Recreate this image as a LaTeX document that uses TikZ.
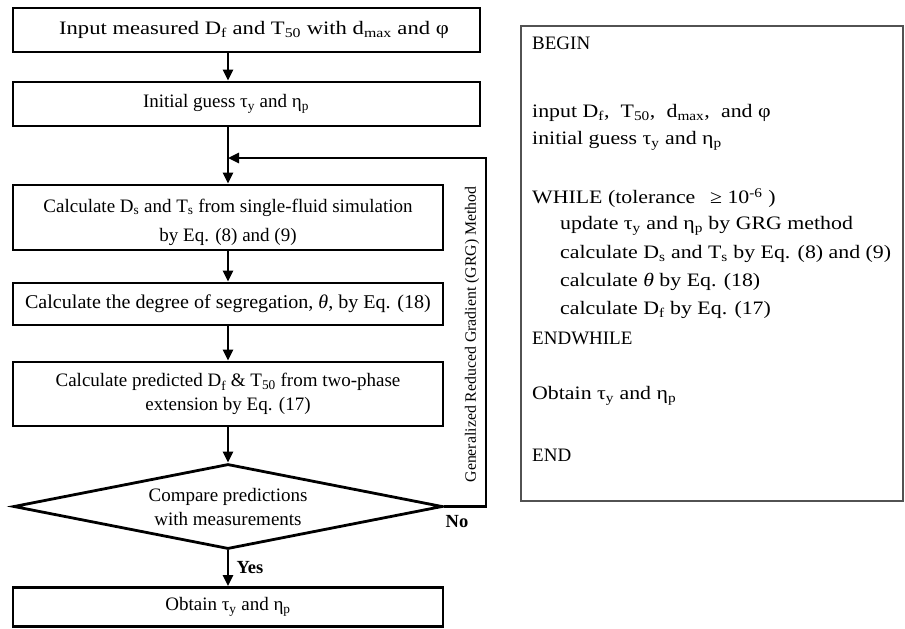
\documentclass[tikz,border=0pt]{standalone}
\usepackage{fontspec}
\usepackage{graphicx}
\setmainfont{Liberation Serif}
\usetikzlibrary{shapes.geometric,arrows.meta}
\newcommand{\wid}[1]{\scalebox{1.15}[1]{#1}}
\begin{document}
\begin{tikzpicture}[x=1pt,y=-1pt,
  flowbox/.style={draw,line width=2.8pt,rectangle,inner sep=0pt,align=center,
    font=\fontsize{19}{24}\selectfont},
  flowline/.style={line width=2.6pt,-{Triangle[length=11pt,width=10pt]}},
  lbl/.style={font=\fontsize{18.5}{21}\selectfont\bfseries},
  codeline/.style={anchor=west,inner sep=0pt,font=\fontsize{19}{22}\selectfont}]
\useasboundingbox (0,0) rectangle (905,629);
\fill[white] (0,0) rectangle (905,629);
% flowchart
\node[flowbox,minimum width=467pt,minimum height=44pt] (b1) at (246.5,30)
  {\hspace*{15pt}\scalebox{1.19}[1]{Input measured D\textsubscript{f} and T\textsubscript{50} with d\textsubscript{max} and φ}};
\node[flowbox,minimum width=467pt,minimum height=44pt] (b2) at (246.5,104)
  {Initial guess τ\textsubscript{y} and η\textsubscript{p}\hspace*{41pt}};
\node[flowbox,minimum width=430pt,minimum height=65pt] (b3) at (228,217.5) {};
\node[align=center,inner sep=0pt,font=\fontsize{19}{29}\selectfont] (b3text) at (228,222)
  {Calculate D\textsubscript{s} and T\textsubscript{s} from single-fluid simulation\\by Eq. (8) and (9)};
\node[flowbox,minimum width=430pt,minimum height=42pt,
  font=\fontsize{19.5}{24}\selectfont] (b4) at (228,304)
  {\scalebox{1.03}[1]{Calculate the degree of segregation, \textit{θ}, by Eq. (18)}};
\node[flowbox,minimum width=430pt,minimum height=64pt] (b5) at (228,394)
  {Calculate predicted D\textsubscript{f} \& T\textsubscript{50} from two-phase\\extension by Eq. (17)};
\node[draw,line width=2.8pt,diamond,inner sep=0pt,minimum width=429pt,
  minimum height=85pt] (dia) at (228,506.5) {};
\node[align=center,inner sep=0pt,font=\fontsize{19}{24}\selectfont] (diatext) at (dia.center)
  {Compare predictions\\with measurements};
\node[flowbox,minimum width=430pt,minimum height=39pt] (b6) at (228,607)
  {Obtain τ\textsubscript{y} and η\textsubscript{p}};
\coordinate (spine) at (228,0);
\coordinate (join) at (228,158);
\coordinate (turn) at (486,158);
\draw[flowline] (b1.south -| spine) -- (b2.north -| spine);
\draw[flowline] (b2.south -| spine) -- (b3.north);
\draw[flowline] (b3.south) -- (b4.north);
\draw[flowline] (b4.south) -- (b5.north);
\draw[flowline] (b5.south) -- (dia.north);
\draw[flowline] (dia.south) -- (b6.north);
\draw[flowline,line join=miter] (dia.east) -| (turn) -- (join);
\node[rotate=90,font=\fontsize{15.8}{18}\selectfont] (grg) at (472,334.5)
  {Generalized Reduced Gradient (GRG) Method};
\node[lbl] (no) at (457,522) {No};
\node[lbl] (yes) at (250,568) {Yes};
% pseudo-code box
\draw[line width=1.8pt,draw=black!68] (521,26) rectangle (903,501);
\node[codeline] (l1) at (532,43) {BEGIN};
\node[codeline] (l2) at (532,113) {\wid{input D\textsubscript{f},\hspace{5pt} T\textsubscript{50},\hspace{5pt} d\textsubscript{max},\hspace{5pt} and φ}};
\node[codeline] (l3) at (532,141) {\wid{initial guess τ\textsubscript{y} and η\textsubscript{p}}};
\node[codeline] (l4) at (532,198) {\wid{WHILE (tolerance \hspace{8pt}≥ 10\textsuperscript{-6}\hspace{5pt})}};
\node[codeline] (l5) at (560,226) {\wid{update τ\textsubscript{y} and η\textsubscript{p} by GRG method}};
\node[codeline] (l6) at (560,254) {\wid{calculate D\textsubscript{s} and T\textsubscript{s} by Eq. (8) and (9)}};
\node[codeline] (l7) at (560,282) {\wid{calculate \textit{θ} by Eq. (18)}};
\node[codeline] (l8) at (560,310) {\wid{calculate D\textsubscript{f} by Eq. (17)}};
\node[codeline] (l9) at (532,338) {ENDWHILE};
\node[codeline] (l10) at (532,396) {\wid{Obtain τ\textsubscript{y} and η\textsubscript{p}}};
\node[codeline] (l11) at (532,455) {END};
\end{tikzpicture}
\end{document}
